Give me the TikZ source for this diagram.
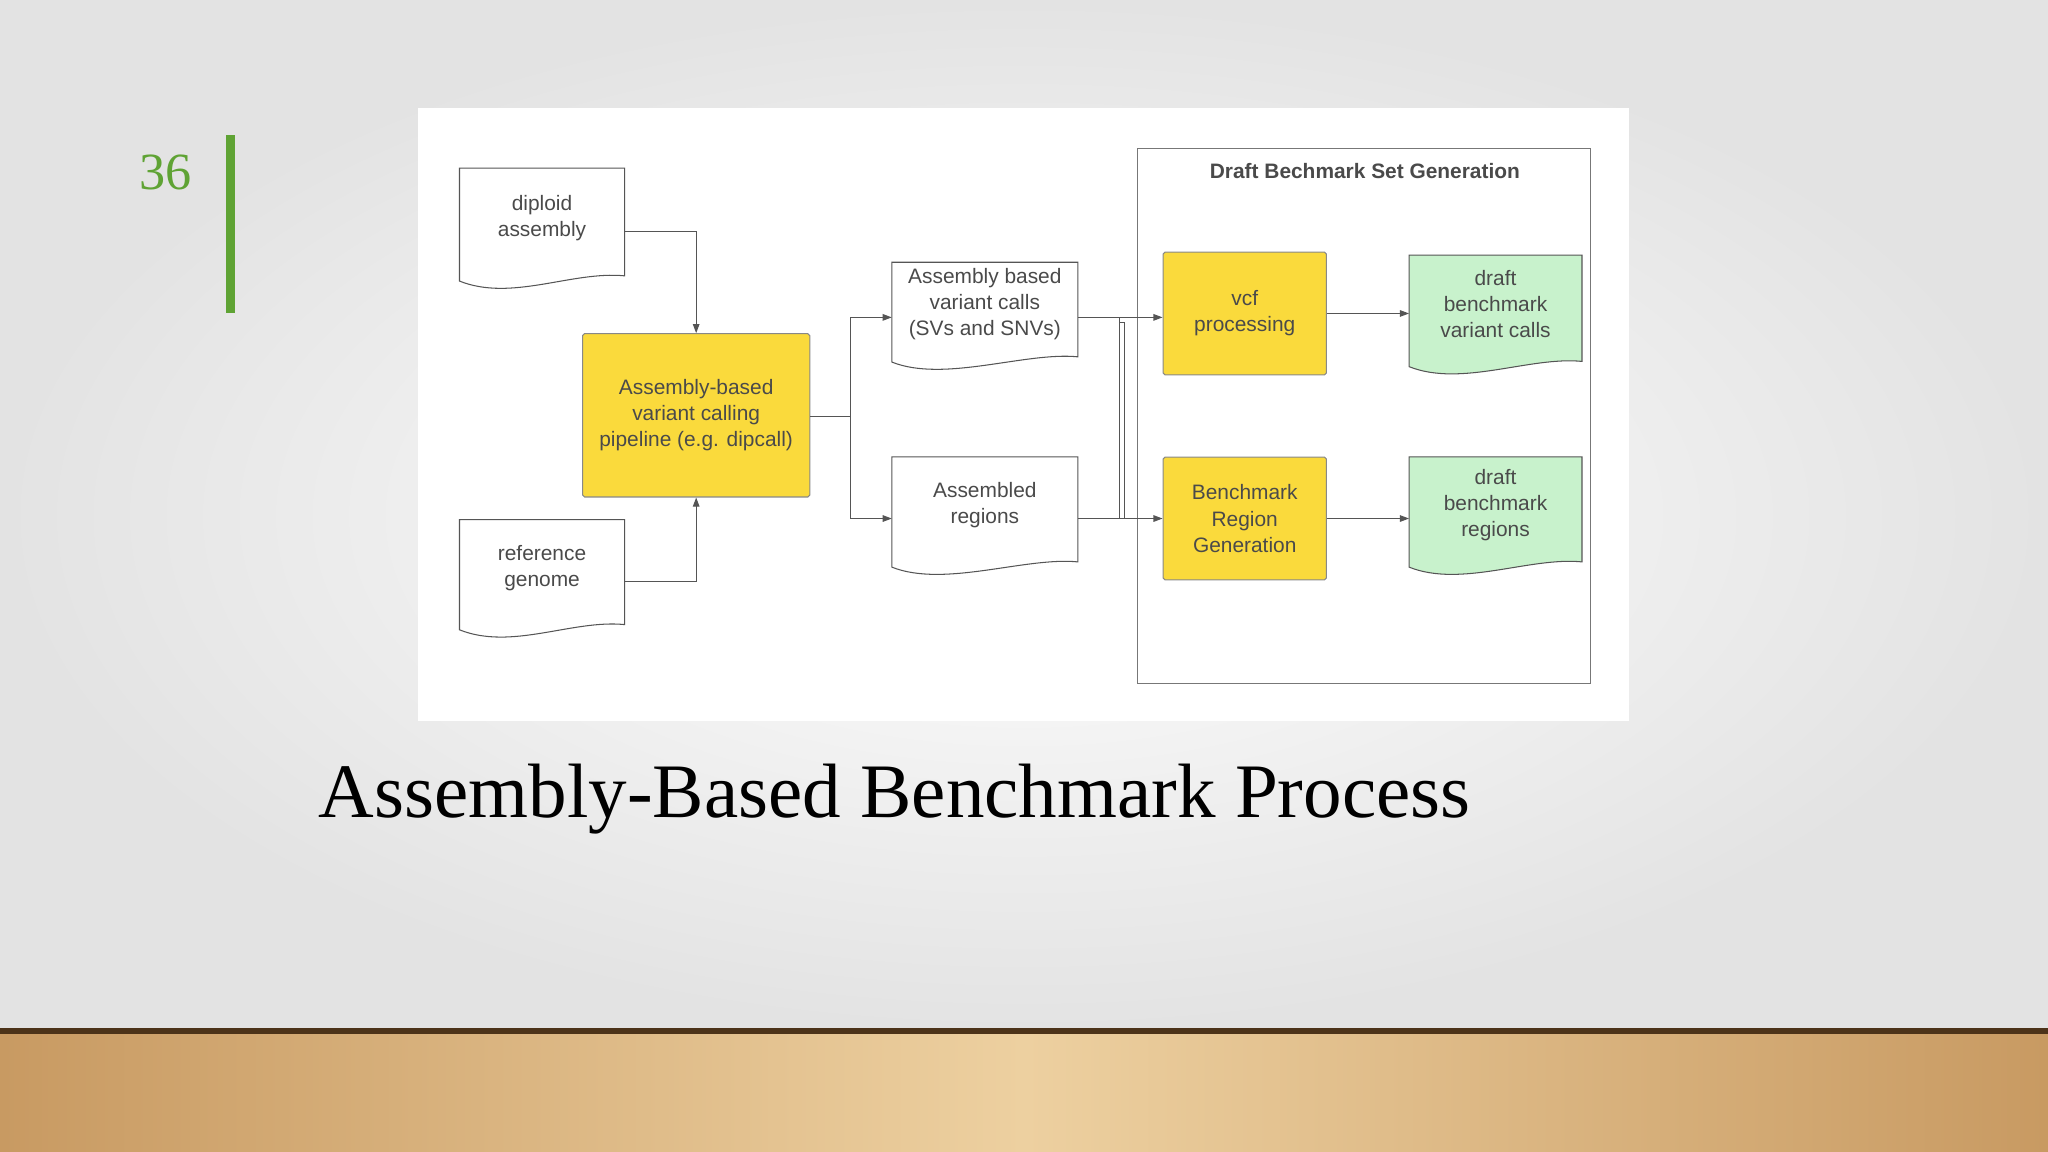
\documentclass[tikz,border=0pt]{standalone}
\usepackage{fontspec}
\setmainfont{Liberation Sans}
\newfontfamily\titlefont{Liberation Serif}
\usetikzlibrary{arrows.meta,calc}
\definecolor{ybox}{HTML}{FADA3C}
\definecolor{gbox}{HTML}{C8F2CC}
\definecolor{tgray}{HTML}{4A4A4A}
\definecolor{lgray}{HTML}{555555}
\definecolor{grn}{HTML}{5FA334}
\definecolor{wd}{HTML}{C89A62}
\definecolor{wl}{HTML}{EDD0A0}
\tikzset{
 txt/.style={font=\fontsize{16}{20}\selectfont, text=tgray, align=center, inner sep=0},
 ybx/.style={draw=lgray!70, fill=ybox, rounded corners=1.5, line width=0.8},
 docline/.style={draw=lgray, line width=0.8},
 conn/.style={draw=lgray, line width=0.9},
 arr/.style={conn, -{Triangle[length=7,width=5]}},
}
\newcommand\docshape[2]{\draw[docline,fill=#2] (#1.north west) -- (#1.north east) -- ([yshift=14]#1.south east) .. controls ([xshift=-40,yshift=18]#1.south east) and ([xshift=40,yshift=-6]#1.south west) .. ([yshift=10]#1.south west) -- cycle;}
\begin{document}
\begin{tikzpicture}[x=1pt,y=-1pt]
\useasboundingbox (0,0) rectangle (1568,882);
\shade[inner color=white, outer color=black!11] (0,0) rectangle (1568,790);
\shade[left color=wd, right color=wd, middle color=wl] (0,790) rectangle (1568,882);
\fill[black!60!brown] (0,787) rectangle (1568,792);
\node[text=grn, font=\titlefont\fontsize{40}{40}\selectfont] (num) at (127,132) {36};
\fill[grn] (173,103) rectangle (180,240);
\node[txt, text=black, font=\titlefont\fontsize{59}{59}\selectfont] (title) at (685,612) {Assembly-Based Benchmark Process};
\fill[white] (320,83) rectangle (1247,552);
\draw[draw=lgray!80, line width=0.9] (871,114) rectangle (1218,523);
\node[txt, font=\bfseries\fontsize{16}{19}\selectfont] (ctitle) at (1045,131) {Draft Bechmark Set Generation};
\node[minimum width=126, minimum height=96, inner sep=0] (dip) at (415,177) {};
\docshape{dip}{white}\node[txt] at (415,167) {diploid\\assembly};
\node[minimum width=126, minimum height=94, inner sep=0] (ref) at (415,445) {};
\docshape{ref}{white}\node[txt] at (415,435) {reference\\genome};
\node[minimum width=142, minimum height=86, inner sep=0] (avc) at (754,244) {};
\docshape{avc}{white}\node[txt] at (754,233) {Assembly based\\variant calls\\(SVs and SNVs)};
\node[minimum width=142, minimum height=94, inner sep=0] (asr) at (754,397) {};
\docshape{asr}{white}\node[txt] at (754,387) {Assembled\\regions};
\node[minimum width=132, minimum height=95, inner sep=0] (dvc) at (1145,243) {};
\docshape{dvc}{gbox}\node[txt] at (1145,233) {draft\\benchmark\\variant calls};
\node[minimum width=132, minimum height=94, inner sep=0] (dbr) at (1145,397) {};
\docshape{dbr}{gbox}\node[txt] at (1145,387) {draft\\benchmark\\regions};
\node[ybx, txt, minimum width=174, minimum height=125] (pipe) at (533,318) {Assembly-based\\variant calling\\pipeline (e.g. dipcall)};
\node[ybx, txt, minimum width=125, minimum height=94] (vcf) at (953,240) {vcf\\processing};
\node[ybx, txt, minimum width=125, minimum height=94] (brg) at (953,397) {Benchmark\\Region\\Generation};
\draw[arr] (dip.east |- 0,177) -- (533,177) -- (pipe.north);
\draw[arr] (ref.east |- 0,445) -- (533,445) -- (pipe.south);
\coordinate (br) at (651,319);
\draw[conn] (pipe.east |- br) -- (br);
\draw[arr] (br) |- (avc.west |- 0,243);
\draw[arr] (br) |- (asr.west);
\draw[arr] (avc.east |- 0,243) -- (vcf.west |- 0,243);
\draw[arr] (asr.east) -- (brg.west);
\draw[conn] (857,243) -- (857,397);
\draw[conn] (861,397) -- (861,247) -- (857,247);
\draw[arr] (vcf.east) -- (dvc.west |- vcf.east);
\draw[arr] (brg.east) -- (dbr.west);
\end{tikzpicture}
\end{document}
